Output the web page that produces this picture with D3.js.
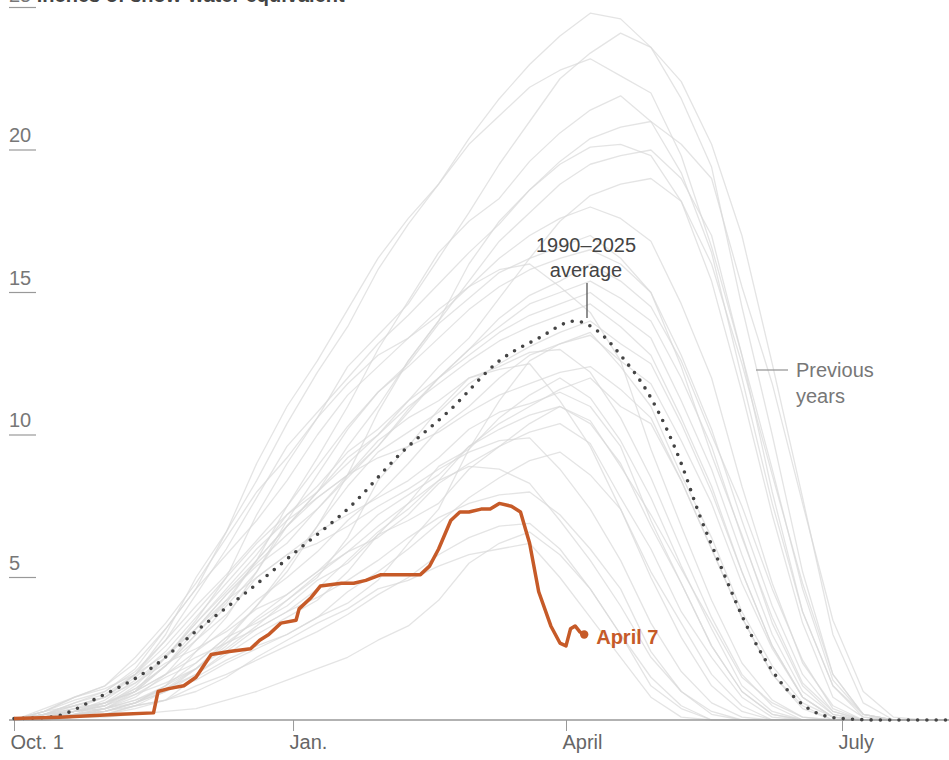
<!DOCTYPE html>
<html>
<head>
<meta charset="utf-8">
<script src="https://cdn.jsdelivr.net/npm/d3@7"></script>
<style>
  body { margin: 0; background: #fff; }
  svg { display: block; font-family: "Liberation Sans", Arial, sans-serif; }
</style>
</head>
<body>
<svg id="vis-svg"></svg>
<script>
// Days counted from Oct. 1
const sampleDays = d3.range(0, 301, 10);

const yearLabels = d3.range(1990, 2025);

// Previous seasons, inches of snow-water equivalent every 10 days
const pastSeasons = [
    [0,0.1,0.1,0.4,0.9,1.5,2.0,2.9,3.4,4.0,4.9,5.5,6.5,7.0,7.6,8.8,9.6,10.4,11.0,10.5,8.9,7.2,5.3,3.4,1.5,0.6,0.1,0,0,0,0],
    [0,0,0.1,0.2,0.5,0.7,1.5,2.1,2.6,3.0,3.6,4.1,4.9,6.2,7.4,9.5,11.2,12.6,13.2,13.6,12.4,11.0,8.6,6.4,3.8,1.9,0.6,0.1,0,0,0],
    [0,0.2,0.3,0.5,0.9,1.3,1.8,2.7,3.5,4.2,5.1,5.9,6.8,7.6,8.4,8.9,8.8,8.3,7.0,5.6,4.0,2.2,1.0,0.3,0,0,0,0,0,0,0],
    [0,0.1,0.3,0.5,1.0,1.9,3.0,4.1,5.6,7.5,9.2,11.0,13.0,14.7,16.4,17.5,18.3,19.6,20.6,21.4,21.9,21.0,19.2,16.4,12.0,7.6,3.8,1.2,0.2,0,0],
    [0,0.3,0.5,0.8,1.3,2.0,2.5,3.1,3.9,4.4,5.2,5.9,6.4,7.2,8.3,9.0,9.6,10.1,10.4,9.7,7.8,6.0,3.8,2.2,0.8,0.1,0,0,0,0,0],
    [0,0.1,0.2,0.6,1.0,2.2,3.5,5.0,7.2,9.0,10.6,12.4,13.5,14.6,16.2,17.8,19.5,21.0,22.5,23.4,24.1,23.6,22.4,20.2,17.0,12.5,7.8,3.0,0.6,0,0],
    [0,0.2,0.6,1.0,1.7,2.8,4.0,5.1,6.3,7.5,8.9,10.3,11.5,12.5,13.9,14.8,15.7,16.2,16.6,17.0,16.2,15.0,12.4,9.3,6.5,3.4,1.2,0.2,0,0,0],
    [0,0.3,0.8,1.2,2.2,3.4,4.8,6.4,8.0,9.2,10.6,11.8,12.8,13.4,14.2,15.2,15.8,16.0,15.2,14.3,12.6,9.5,6.8,4.2,2.0,0.7,0.1,0,0,0,0],
    [0,0,0.1,0.2,0.5,1.0,1.8,2.8,4.0,5.2,6.8,8.6,10.8,12.6,14.0,16.0,17.5,18.6,19.5,20.1,20.2,19.8,18.2,15.4,11.5,7.2,3.4,0.8,0.1,0,0],
    [0,0.4,0.8,1.1,1.6,2.3,3.2,4.4,5.5,6.5,7.4,8.5,9.6,10.9,12.0,13.0,14.1,14.9,15.4,16.0,15.4,14.5,12.6,10.0,7.5,4.6,2.1,0.4,0,0,0],
    [0,0.1,0.2,0.3,0.6,1.2,1.8,2.5,3.3,4.2,5.0,6.4,8.4,9.6,10.9,12.0,12.4,12.9,13.0,12.2,10.6,8.5,6.0,3.6,1.6,0.5,0,0,0,0,0],
    [0,0.2,0.4,0.6,1.0,1.6,2.2,2.7,3.2,3.8,4.3,4.9,5.6,6.4,7.1,7.6,7.9,8.0,7.2,6.0,4.6,2.4,1.0,0.2,0,0,0,0,0,0,0],
    [0,0.1,0.3,0.5,1.1,1.9,2.8,3.7,5.0,5.8,6.6,7.2,7.8,8.4,9.2,10.2,10.8,11.1,11.5,11.0,9.6,7.0,4.8,2.6,1.0,0.2,0,0,0,0,0],
    [0,0.2,0.3,0.4,0.7,1.1,1.6,2.3,3.0,3.6,4.2,5.2,6.5,7.6,8.9,9.5,10.6,11.4,12.0,11.3,9.8,7.8,5.4,3.2,1.2,0.3,0,0,0,0,0],
    [0,0.1,0.3,0.6,1.3,2.2,3.4,4.5,5.6,6.8,7.8,8.6,9.8,10.6,11.2,12.0,12.3,12.5,11.2,9.6,7.4,5.0,2.9,1.2,0.3,0,0,0,0,0,0],
    [0,0.3,0.8,1.2,2.0,3.2,4.6,5.8,7.0,8.4,10.0,11.4,12.4,13.4,14.4,15.2,16.2,17.0,17.6,18.0,17.6,16.8,14.6,12.0,8.2,4.8,2.0,0.5,0,0,0],
    [0,0.1,0.2,0.4,0.8,1.6,2.8,4.0,5.2,6.8,8.0,9.0,10.0,11.2,12.4,13.4,14.8,16.2,17.5,18.4,18.8,19.0,18.2,16.0,12.5,8.6,4.8,1.6,0.2,0,0],
    [0,0.1,0.2,0.3,0.5,0.7,1.2,1.6,2.1,2.6,3.1,3.7,4.4,5.0,5.8,6.4,6.8,6.9,6.0,4.6,3.0,1.5,0.5,0,0,0,0,0,0,0,0],
    [0,0,0.1,0.3,0.6,1.2,2.4,3.6,5.2,7.0,8.6,10.2,11.5,12.4,13.4,14.4,15.2,15.8,16.2,16.5,16.0,15.0,12.8,10.2,7.0,4.0,1.6,0.3,0,0,0],
    [0,0.2,0.4,0.6,1.0,1.6,2.4,3.2,4.2,5.0,5.9,7.0,7.9,9.0,10.2,11.0,12.0,12.8,13.2,13.5,12.6,11.8,9.8,7.6,4.8,2.5,0.8,0.1,0,0,0],
    [0,0.1,0.2,0.4,0.7,1.2,2.0,2.9,4.0,5.4,6.8,8.2,9.4,10.1,10.8,11.8,12.5,13.1,13.6,14.0,13.2,12.5,10.4,8.0,5.2,2.6,0.8,0.1,0,0,0],
    [0,0.2,0.5,0.8,1.6,2.8,4.4,6.0,7.8,9.6,10.8,12.0,13.2,14.2,15.3,16.4,17.4,18.6,19.6,20.4,20.8,21.0,20.2,19.0,15.2,11.8,7.6,3.5,1.0,0.1,0],
    [0,0.2,0.3,0.4,0.6,1.0,1.4,2.0,2.5,3.0,3.6,4.5,5.2,6.0,6.9,7.8,8.5,9.1,9.4,8.6,7.4,5.2,3.4,1.6,0.5,0,0,0,0,0,0],
    [0,0.1,0.3,0.7,1.4,2.2,3.2,4.2,5.0,5.8,6.2,6.8,7.5,8.1,8.8,9.4,9.8,9.9,8.8,7.4,5.6,3.4,1.7,0.6,0.1,0,0,0,0,0,0],
    [0,0,0.1,0.1,0.2,0.3,0.4,0.7,1.0,1.4,1.8,2.2,2.8,3.3,4.2,5.5,6.2,6.6,5.8,4.6,3.0,1.2,0.4,0,0,0,0,0,0,0,0],
    [0,0.1,0.1,0.2,0.4,0.7,1.0,1.5,2.2,2.8,3.4,3.9,4.6,4.9,5.4,5.8,6.0,6.2,5.0,3.6,2.2,0.8,0.1,0,0,0,0,0,0,0,0],
    [0,0.1,0.3,0.5,1.2,2.2,3.4,4.6,5.8,7.2,8.2,9.4,10.2,11.2,12.0,12.8,13.6,14.2,14.6,15.0,14.2,13.4,11.2,8.8,5.8,3.0,1.0,0.2,0,0,0],
    [0,0.3,0.7,1.0,1.8,3.2,4.6,6.6,9.0,11.0,12.6,14.4,16.2,17.6,18.8,20.2,21.2,22.2,22.8,23.2,22.6,22.0,19.8,16.6,12.8,8.0,3.8,1.2,0.1,0,0],
    [0,0.1,0.2,0.3,0.6,1.0,1.6,2.4,3.2,3.8,4.6,5.6,6.6,7.4,8.4,9.6,10.4,11.0,11.6,12.0,11.0,10.4,8.4,6.0,3.6,1.6,0.4,0,0,0,0],
    [0,0.1,0.3,0.6,1.1,1.9,3.0,4.2,5.6,6.8,8.0,9.6,11.0,12.6,14.0,15.4,16.8,17.8,18.8,19.5,19.8,20.0,19.0,17.0,12.8,8.8,4.6,1.4,0.2,0,0],
    [0,0.2,0.6,0.9,1.6,2.6,3.8,5.0,6.2,7.2,8.0,9.2,10.0,11.0,11.8,12.6,13.3,13.8,14.2,14.6,13.8,12.8,10.6,8.2,5.2,2.6,0.8,0.1,0,0,0],
    [0,0.1,0.2,0.3,0.6,1.1,1.8,2.6,3.6,4.4,5.2,6.2,7.2,7.9,8.6,9.6,10.2,10.7,11.0,10.4,9.0,6.8,4.8,2.6,1.0,0.2,0,0,0,0,0],
    [0,0.2,0.5,0.8,1.5,2.4,3.6,4.8,6.0,7.0,7.8,8.6,9.2,9.6,10.1,10.8,11.4,11.8,12.2,12.4,11.6,10.6,8.4,6.0,3.6,1.6,0.5,0,0,0,0],
    [0,0.1,0.4,0.8,1.6,3.0,5.0,6.6,8.4,10.4,12.2,13.8,15.8,17.4,18.8,20.4,21.8,23.0,24.0,24.8,24.6,23.6,21.8,19.4,14.5,10.0,5.2,1.6,0.2,0,0],
    [0,0.1,0.2,0.4,1.0,1.9,3.2,4.4,5.4,6.2,7.4,8.6,9.6,10.8,12.0,13.0,13.8,14.6,15.0,15.4,14.8,14.0,12.0,9.6,6.4,3.6,1.3,0.3,0,0,0]
];

// 1990-2025 average
const avgDays = [0, 12, 28, 45, 61, 78, 94, 111, 127, 144, 160, 173, 185, 193, 200, 210, 220, 226, 233, 243, 253, 262, 272, 286, 310];
const avgValues = [0.05, 0.1, 0.8, 1.8, 3.2, 4.6, 6.0, 7.5, 9.3, 10.9, 12.6, 13.4, 14.0, 13.6, 12.8, 11.3, 9.0, 7.2, 5.4, 3.0, 1.3, 0.4, 0.06, 0, 0];

// This season, through April 7
const days2025 = [0, 15, 25, 35, 46, 47.5, 51, 56, 60, 65, 71, 78, 81, 84, 88, 93, 94, 98, 101, 108, 112, 116, 121, 134, 137, 140, 144, 147, 150, 154, 157, 160, 164, 167, 170, 173, 177, 180, 182, 183.5, 185, 186.5, 188];
const values2025 = [0.05, 0.1, 0.15, 0.2, 0.25, 1.0, 1.1, 1.2, 1.5, 2.3, 2.4, 2.5, 2.8, 3.0, 3.4, 3.5, 3.9, 4.3, 4.7, 4.8, 4.8, 4.9, 5.1, 5.1, 5.4, 6.0, 7.0, 7.3, 7.3, 7.4, 7.4, 7.6, 7.5, 7.3, 6.2, 4.5, 3.3, 2.7, 2.6, 3.2, 3.3, 3.1, 3.0];

const xTickDays = [0, 92, 182, 273];
const xTickLabels = ["Oct. 1", "Jan.", "April", "July"];
const yTicks = [5, 10, 15, 20, 25];

const width = 949, height = 760;
const orange = "#c65a28";

const x = d3.scaleLinear().domain([0, 273]).range([14, 842]);
const y = d3.scaleLinear().domain([0, 25]).range([720, 7.5]);

const svg = d3.select("#vis-svg")
    .attr("width", width)
    .attr("height", height);

// y ticks: short rule under each label
const yAxis = svg.append("g");
yAxis.selectAll("line")
    .data(yTicks)
    .enter().append("line")
    .attr("x1", 9).attr("x2", 36)
    .attr("y1", d => y(d)).attr("y2", d => y(d))
    .attr("stroke", "#999")
    .attr("stroke-width", 1.2);
yAxis.selectAll("text")
    .data(yTicks.filter(d => d < 25))
    .enter().append("text")
    .attr("x", 9)
    .attr("y", d => y(d) - 8)
    .style("font-size", "20px")
    .attr("fill", "#777")
    .text(d => d);

// top label (cut off at the top edge, as in the original)
const title = svg.append("text")
    .attr("x", 9).attr("y", 2)
    .style("font-size", "20px");
title.append("tspan").attr("fill", "#777").text("25 ");
title.append("tspan").attr("fill", "#444").style("font-weight", "bold").text("inches of snow-water equivalent");

// previous years
const line = d3.line()
    .x((d, i) => x(sampleDays[i]))
    .y(d => y(d));

svg.append("g")
    .selectAll("path")
    .data(pastSeasons)
    .enter().append("path")
    .attr("d", line)
    .attr("fill", "none")
    .attr("stroke", "#d8d8d8")
    .attr("stroke-opacity", 0.7)
    .attr("stroke-width", 1.3)
    .attr("stroke-linejoin", "round");

// x axis
svg.append("line")
    .attr("x1", 9).attr("x2", width)
    .attr("y1", y(0)).attr("y2", y(0))
    .attr("stroke", "#999")
    .attr("stroke-width", 1.5);

const xAxis = svg.append("g")
    .attr("transform", "translate(0," + y(0) + ")")
    .call(d3.axisBottom(x).tickValues(xTickDays).tickSize(11).tickFormat((d, i) => xTickLabels[i]));
xAxis.select(".domain").remove();
xAxis.selectAll(".tick line").attr("stroke", "#999");
xAxis.selectAll(".tick text")
    .attr("text-anchor", "start")
    .attr("dx", "-4px")
    .attr("y", 29)
    .attr("dy", 0)
    .attr("fill", "#666")
    .style("font-size", "20px")
    .style("font-family", "\"Liberation Sans\", Arial, sans-serif");

// average, dotted
const avgLine = d3.line()
    .x((d, i) => x(avgDays[i]))
    .y(d => y(d))
    .curve(d3.curveMonotoneX);

svg.append("path")
    .datum(avgValues)
    .attr("d", avgLine)
    .attr("fill", "none")
    .attr("stroke", "#444")
    .attr("stroke-width", 3.6)
    .attr("stroke-linecap", "round")
    .attr("stroke-dasharray", "0,9.3");

// 2025 line
const line2025 = d3.line()
    .x((d, i) => x(days2025[i]))
    .y(d => y(d));

svg.append("path")
    .datum(values2025)
    .attr("d", line2025)
    .attr("fill", "none")
    .attr("stroke", orange)
    .attr("stroke-width", 3.5)
    .attr("stroke-linejoin", "round");

const last = days2025.length - 1;
svg.append("circle")
    .attr("cx", x(days2025[last]))
    .attr("cy", y(values2025[last]))
    .attr("r", 4.2)
    .attr("fill", orange);

svg.append("text")
    .attr("x", x(days2025[last]) + 12)
    .attr("y", y(values2025[last]) + 9)
    .attr("fill", orange)
    .style("font-size", "20px")
    .style("font-weight", "bold")
    .text("April 7");

// average label
svg.append("line")
    .attr("x1", 587).attr("x2", 587)
    .attr("y1", 283).attr("y2", 318)
    .attr("stroke", "#555")
    .attr("stroke-width", 1.3);
svg.append("text")
    .attr("x", 586).attr("y", 252)
    .attr("text-anchor", "middle")
    .attr("fill", "#444")
    .style("font-size", "20px")
    .text("1990–2025");
svg.append("text")
    .attr("x", 586).attr("y", 277)
    .attr("text-anchor", "middle")
    .attr("fill", "#444")
    .style("font-size", "20px")
    .text("average");

// previous years label
svg.append("line")
    .attr("x1", 756).attr("x2", 788)
    .attr("y1", 370).attr("y2", 370)
    .attr("stroke", "#999")
    .attr("stroke-width", 1.3);
svg.append("text")
    .attr("x", 796).attr("y", 377)
    .attr("fill", "#777")
    .style("font-size", "20px")
    .text("Previous");
svg.append("text")
    .attr("x", 796).attr("y", 403)
    .attr("fill", "#777")
    .style("font-size", "20px")
    .text("years");
</script>
</body>
</html>
